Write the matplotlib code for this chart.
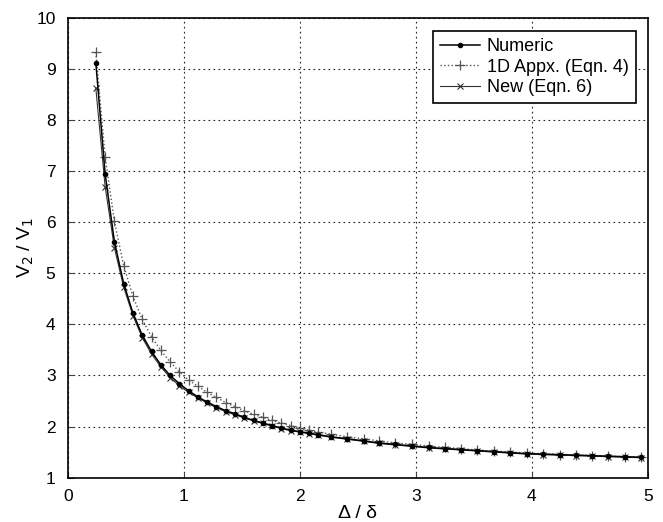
import matplotlib
matplotlib.use("Agg")
import matplotlib.pyplot as plt

plt.rcParams['font.family'] = ['Liberation Sans', 'DejaVu Sans']

x = [0.24, 0.32, 0.40, 0.48, 0.56, 0.64, 0.72, 0.80, 0.88, 0.96, 1.04, 1.12, 1.20,
     1.28, 1.36, 1.44, 1.52, 1.60, 1.68, 1.76, 1.84, 1.92, 2.00, 2.08, 2.16, 2.27,
     2.41, 2.55, 2.68, 2.82, 2.97, 3.11, 3.25, 3.39, 3.53, 3.67, 3.81, 3.96, 4.10,
     4.24, 4.38, 4.52, 4.66, 4.80, 4.94]

numeric = [9.12, 6.95, 5.62, 4.80, 4.22, 3.79, 3.47, 3.21, 3.00, 2.84, 2.70, 2.58, 2.48,
           2.39, 2.31, 2.25, 2.18, 2.12, 2.07, 2.02, 1.97, 1.93, 1.90, 1.87, 1.84, 1.80,
           1.76, 1.72, 1.68, 1.65, 1.62, 1.59, 1.57, 1.55, 1.53, 1.51, 1.49, 1.47, 1.46,
           1.45, 1.44, 1.43, 1.42, 1.41, 1.40]

appx_1d = [9.33, 7.28, 6.02, 5.15, 4.55, 4.10, 3.76, 3.49, 3.27, 3.07, 2.91, 2.79, 2.67,
           2.57, 2.47, 2.39, 2.31, 2.24, 2.18, 2.12, 2.07, 2.02, 1.97, 1.93, 1.89, 1.85,
           1.80, 1.76, 1.72, 1.68, 1.65, 1.62, 1.59, 1.57, 1.54, 1.52, 1.50, 1.48, 1.47,
           1.45, 1.44, 1.43, 1.42, 1.41, 1.40]

new_eq6 = [8.62, 6.70, 5.50, 4.73, 4.17, 3.74, 3.42, 3.17, 2.96, 2.80, 2.67, 2.56, 2.46,
           2.37, 2.29, 2.23, 2.17, 2.11, 2.06, 2.01, 1.96, 1.92, 1.89, 1.86, 1.83, 1.79,
           1.75, 1.71, 1.67, 1.64, 1.61, 1.58, 1.56, 1.54, 1.52, 1.50, 1.48, 1.46, 1.45,
           1.44, 1.43, 1.42, 1.41, 1.40, 1.39]

xticks = [0, 1, 2, 3, 4, 5]
yticks = [1, 2, 3, 4, 5, 6, 7, 8, 9, 10]

fig = plt.figure(figsize=(6.63, 5.22), dpi=100)
ax = fig.add_axes([0.1026, 0.085, 0.8744, 0.8805])

ax.plot(x, numeric, '-', color='black', lw=1.1, marker='o', ms=3, label='Numeric', zorder=4)
ax.plot(x, appx_1d, ':', color='#555555', lw=1.0, marker='+', ms=7, mew=0.9, label='1D Appx. (Eqn. 4)', zorder=3)
ax.plot(x, new_eq6, '-', color='#333333', lw=0.8, marker='x', ms=4, mew=0.8, label='New (Eqn. 6)', zorder=3)

ax.set_xlim(0, 5)
ax.set_ylim(1, 10)
ax.set_xticks(xticks)
ax.set_yticks(yticks)
ax.tick_params(direction='in', labelsize=12.5, length=4, color='#444444')
ax.tick_params(axis='x', pad=8)
ax.tick_params(axis='y', pad=9)
ax.grid(True, linestyle=(0, (1.5, 3)), color='#222222', lw=0.8)
for s in ax.spines.values():
    s.set_linewidth(1.2)

ax.set_xlabel('Δ / δ', fontsize=14, labelpad=1)
ax.set_ylabel('V$_2$ / V$_1$', fontsize=14, labelpad=0)

leg = ax.legend(loc='upper right', fontsize=13, fancybox=False, framealpha=1,
                edgecolor='black', borderpad=0.4, handlelength=2.2, labelspacing=0.2,
                handletextpad=0.4, bbox_to_anchor=(0.995, 0.992))
leg.get_frame().set_linewidth(1.2)

fig.savefig('out.png', dpi=100)
